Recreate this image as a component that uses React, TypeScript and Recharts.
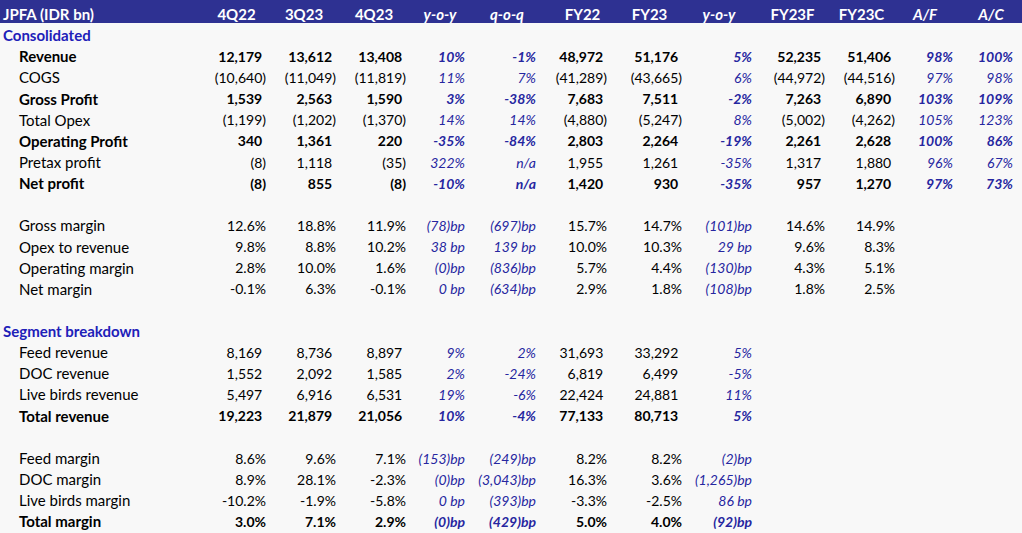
import { ScatterChart, Scatter, XAxis, YAxis, ReferenceArea } from "recharts";

const W = 1022;
const H = 533;
const LABEL_W = 200;
const FONT = "Lato, 'Open Sans', sans-serif";
const NUM_SIZE = 14;
const LABEL_SIZE = 15;
const HEADER_BG = "#2e3192";
const BLUE_TEXT = "#2626a0";
const SECTION_BLUE = "#2020b8";

const COLUMNS = ["4Q22", "3Q23", "4Q23", "y-o-y", "q-o-q", "FY22", "FY23", "y-o-y", "FY23F", "FY23C", "A/F", "A/C"];
// columns holding a change / ratio (italic blue)
const CHANGE_COLS = [3, 4, 7, 10, 11];

// layout: right edge of each value column, and centre of each header label
const COL_RIGHT = [266, 336, 406, 465, 536, 607, 682, 752, 825, 895, 953, 1013];
const HEADER_CENTER = [236.5, 304, 374, 440, 507, 582.5, 649.5, 719, 792.5, 861.5, 925, 991];

// consolidated (IDR bn; changes in %)
const revenue = [12179, 13612, 13408, 10, -1, 48972, 51176, 5, 52235, 51406, 98, 100];
const cogs = [-10640, -11049, -11819, 11, 7, -41289, -43665, 6, -44972, -44516, 97, 98];
const grossProfit = [1539, 2563, 1590, 3, -38, 7683, 7511, -2, 7263, 6890, 103, 109];
const totalOpex = [-1199, -1202, -1370, 14, 14, -4880, -5247, 8, -5002, -4262, 105, 123];
const operatingProfit = [340, 1361, 220, -35, -84, 2803, 2264, -19, 2261, 2628, 100, 86];
const pretaxProfit = [-8, 1118, -35, 322, null, 1955, 1261, -35, 1317, 1880, 96, 67];
const netProfit = [-8, 855, -8, -10, null, 1420, 930, -35, 957, 1270, 97, 73];

// margins (%; changes in bp)
const grossMargin = [12.6, 18.8, 11.9, -78, -697, 15.7, 14.7, -101, 14.6, 14.9];
const opexToRevenue = [9.8, 8.8, 10.2, 38, 139, 10.0, 10.3, 29, 9.6, 8.3];
const operatingMargin = [2.8, 10.0, 1.6, -0.4, -836, 5.7, 4.4, -130, 4.3, 5.1];
const netMargin = [-0.1, 6.3, -0.1, 0.2, -634, 2.9, 1.8, -108, 1.8, 2.5];

// segments
const feedRevenue = [8169, 8736, 8897, 9, 2, 31693, 33292, 5];
const docRevenue = [1552, 2092, 1585, 2, -24, 6819, 6499, -5];
const liveBirdsRevenue = [5497, 6916, 6531, 19, -6, 22424, 24881, 11];
const totalRevenue = [19223, 21879, 21056, 10, -4, 77133, 80713, 5];
const feedMargin = [8.6, 9.6, 7.1, -153, -249, 8.2, 8.2, -2];
const docMargin = [8.9, 28.1, -2.3, -0.4, -3043, 16.3, 3.6, -1265];
const liveBirdsMargin = [-10.2, -1.9, -5.8, 0.2, -393, -3.3, -2.5, 86];
const totalMargin = [3.0, 7.1, 2.9, -0.4, -429, 5.0, 4.0, -92];

type Row = {
  label: string;
  kind: "title" | "section" | "blank" | "num" | "margin";
  bold?: boolean;
  values?: (number | null)[];
};

const ROWS: Row[] = [
  { label: "JPFA (IDR bn)", kind: "title" },
  { label: "Consolidated", kind: "section" },
  { label: "Revenue", kind: "num", bold: true, values: revenue },
  { label: "COGS", kind: "num", values: cogs },
  { label: "Gross Profit", kind: "num", bold: true, values: grossProfit },
  { label: "Total Opex", kind: "num", values: totalOpex },
  { label: "Operating Profit", kind: "num", bold: true, values: operatingProfit },
  { label: "Pretax profit", kind: "num", values: pretaxProfit },
  { label: "Net profit", kind: "num", bold: true, values: netProfit },
  { label: "", kind: "blank" },
  { label: "Gross margin", kind: "margin", values: grossMargin },
  { label: "Opex to revenue", kind: "margin", values: opexToRevenue },
  { label: "Operating margin", kind: "margin", values: operatingMargin },
  { label: "Net margin", kind: "margin", values: netMargin },
  { label: "", kind: "blank" },
  { label: "Segment breakdown", kind: "section" },
  { label: "Feed revenue", kind: "num", values: feedRevenue },
  { label: "DOC revenue", kind: "num", values: docRevenue },
  { label: "Live birds revenue", kind: "num", values: liveBirdsRevenue },
  { label: "Total revenue", kind: "num", bold: true, values: totalRevenue },
  { label: "", kind: "blank" },
  { label: "Feed margin", kind: "margin", values: feedMargin },
  { label: "DOC margin", kind: "margin", values: docMargin },
  { label: "Live birds margin", kind: "margin", values: liveBirdsMargin },
  { label: "Total margin", kind: "margin", bold: true, values: totalMargin },
];

type Cell = {
  x: number;
  y: number;
  text: string;
  ghost: boolean;
  bold: boolean;
  italic: boolean;
  color: string;
  size: number;
  anchor: "end" | "middle";
};

function fmtThousands(v: number): string {
  return Math.abs(v).toLocaleString("en-US");
}

function fmtCell(row: Row, col: number, v: number | null): { text: string; ghost: boolean } {
  const change = CHANGE_COLS.includes(col);
  if (v === null) return { text: "n/a", ghost: false };
  if (change) {
    if (row.kind === "num") return { text: `${v}%`, ghost: false };
    const s = Math.round(Math.abs(v)).toLocaleString("en-US");
    return { text: v < 0 ? `(${s})bp` : `${s} bp`, ghost: false };
  }
  if (row.kind === "num") {
    return v < 0 ? { text: `(${fmtThousands(v)})`, ghost: false } : { text: fmtThousands(v), ghost: true };
  }
  return { text: `${v.toFixed(1)}%`, ghost: false };
}

const cells: Cell[] = [];
COLUMNS.forEach((c, i) => {
  cells.push({
    x: HEADER_CENTER[i],
    y: 0,
    text: c,
    ghost: false,
    bold: true,
    italic: CHANGE_COLS.includes(i),
    color: "#ffffff",
    size: LABEL_SIZE,
    anchor: "middle",
  });
});
ROWS.forEach((row, r) => {
  (row.values ?? []).forEach((v, c) => {
    const { text, ghost } = fmtCell(row, c, v);
    const change = CHANGE_COLS.includes(c);
    cells.push({
      x: COL_RIGHT[c],
      y: r,
      text,
      ghost,
      bold: !!row.bold,
      italic: change,
      color: change ? BLUE_TEXT : "#000000",
      size: NUM_SIZE,
      anchor: "end",
    });
  });
});

function CellText(props: any) {
  const { cx, cy, payload } = props;
  const p = payload as Cell;
  return (
    <text
      x={cx}
      y={cy}
      dy="0.35em"
      textAnchor={p.anchor}
      fontFamily={FONT}
      fontSize={p.size}
      fontWeight={p.bold ? 700 : 400}
      fontStyle={p.italic ? "italic" : "normal"}
      fill={p.color}
    >
      {p.text}
      {p.ghost && <tspan fillOpacity={0}>)</tspan>}
    </text>
  );
}

function RowLabel(props: any) {
  const { y, payload } = props;
  const row = ROWS[payload.value];
  if (!row || !row.label) return <g />;
  const outer = row.kind === "title" || row.kind === "section";
  const color = row.kind === "title" ? "#ffffff" : row.kind === "section" ? SECTION_BLUE : "#000000";
  return (
    <text
      x={outer ? 3 : 19}
      y={y}
      dy="0.35em"
      textAnchor="start"
      fontFamily={FONT}
      fontSize={LABEL_SIZE}
      fontWeight={outer || row.bold ? 700 : 400}
      fill={color}
    >
      {row.label}
    </text>
  );
}

export default function App() {
  return (
    <div style={{ position: "fixed", left: 0, top: 0, width: W, height: H, background: "#f8f8f8" }}>
      <ScatterChart width={W} height={H} margin={{ top: 0, right: 0, bottom: 0, left: 0 }}>
        <ReferenceArea x1={0} x2={W} y1={-0.7} y2={0.39} fill={HEADER_BG} fillOpacity={1} stroke="none" ifOverflow="visible" />
        <XAxis type="number" dataKey="x" domain={[LABEL_W, W]} hide allowDataOverflow />
        <YAxis
          type="number"
          dataKey="y"
          domain={[-0.7, 24.52]}
          reversed
          width={LABEL_W}
          ticks={ROWS.map((_, i) => i)}
          interval={0}
          axisLine={false}
          tickLine={false}
          tick={<RowLabel />}
        />
        <Scatter data={cells} shape={<CellText />} isAnimationActive={false} />
      </ScatterChart>
    </div>
  );
}
